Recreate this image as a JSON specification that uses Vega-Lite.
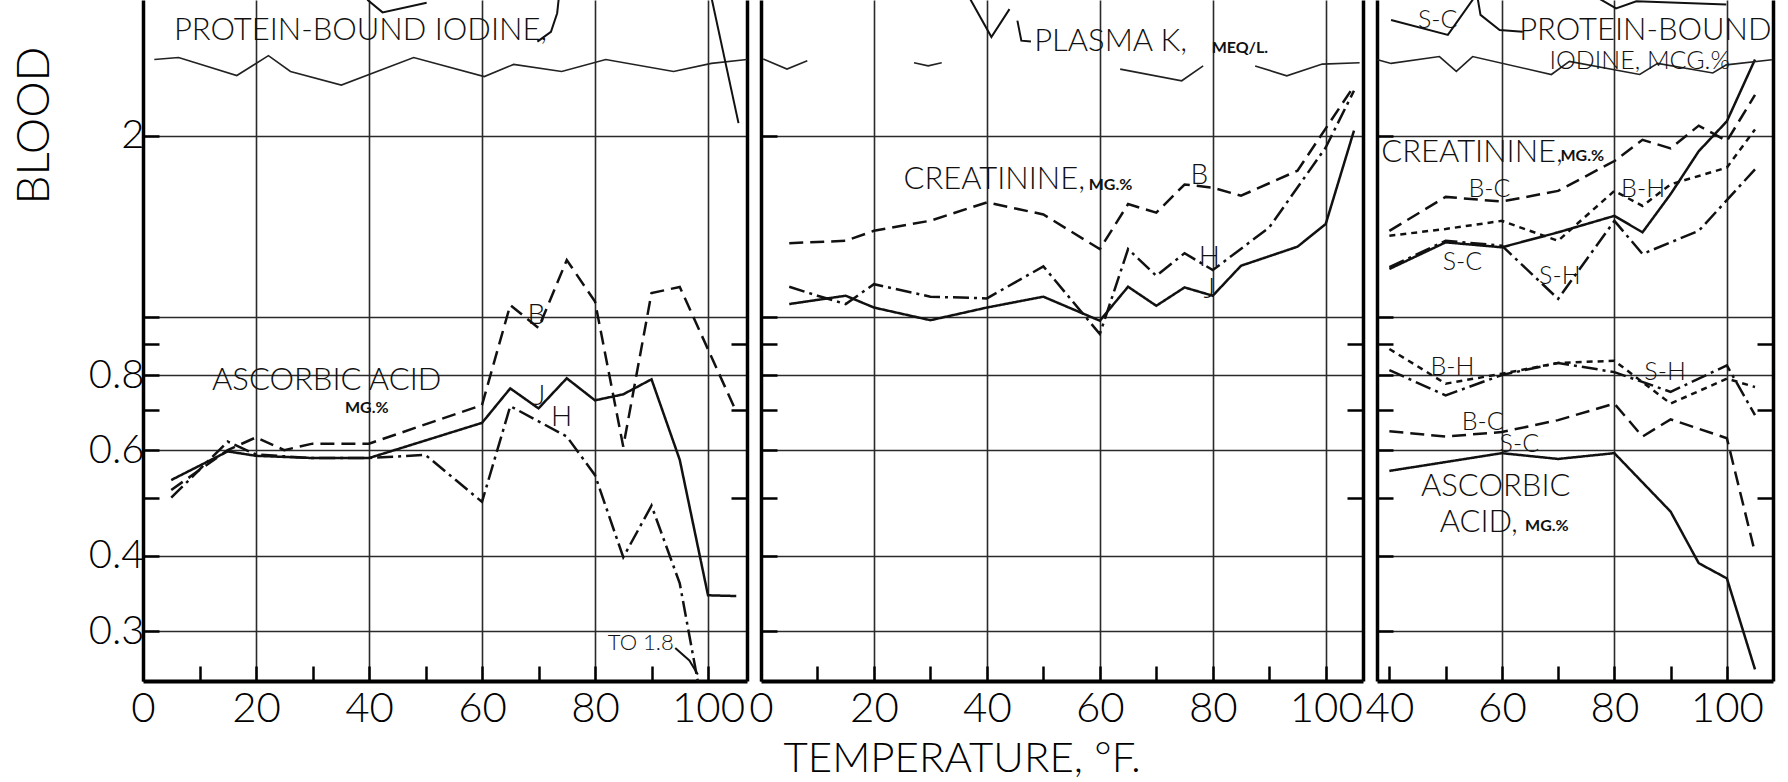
{
  "$schema": "https://vega.github.io/schema/vega-lite/v6.json",
  "background": "white",
  "padding": {"left": 11, "top": 0, "right": 10, "bottom": 5},
  "spacing": 14,
  "bounds": "flush",
  "config": {
    "font": "Lato",
    "view": {"stroke": null},
    "axis": {"gridColor": "#2a2a2a", "gridWidth": 1.6, "tickColor": "#000", "tickWidth": 2.5, "labelColor": "#000", "labelFont": "Lato", "labelFontWeight": 300, "titleFont": "Lato", "titleFontWeight": 300, "titleColor": "#000", "domainColor": "#000"},
    "text": {"font": "Lato", "color": "#111", "fontWeight": 300}
  },
  "datasets": {
    "lines": [
      {"p":1,"m":"asc","s":"J","x":5,"v":0.535},{"p":1,"m":"asc","s":"J","x":15,"v":0.597},{"p":1,"m":"asc","s":"J","x":20,"v":0.587},{"p":1,"m":"asc","s":"J","x":30,"v":0.582},{"p":1,"m":"asc","s":"J","x":40,"v":0.582},{"p":1,"m":"asc","s":"J","x":60,"v":0.666},{"p":1,"m":"asc","s":"J","x":65,"v":0.76},{"p":1,"m":"asc","s":"J","x":70,"v":0.704},{"p":1,"m":"asc","s":"J","x":75,"v":0.79},{"p":1,"m":"asc","s":"J","x":80,"v":0.726},{"p":1,"m":"asc","s":"J","x":85,"v":0.743},{"p":1,"m":"asc","s":"J","x":90,"v":0.787},{"p":1,"m":"asc","s":"J","x":95,"v":0.578},{"p":1,"m":"asc","s":"J","x":100,"v":0.344},{"p":1,"m":"asc","s":"J","x":105,"v":0.343},
      {"p":1,"m":"asc","s":"B","x":5,"v":0.515},{"p":1,"m":"asc","s":"B","x":15,"v":0.6},{"p":1,"m":"asc","s":"B","x":20,"v":0.63},{"p":1,"m":"asc","s":"B","x":25,"v":0.6},{"p":1,"m":"asc","s":"B","x":30,"v":0.615},{"p":1,"m":"asc","s":"B","x":40,"v":0.615},{"p":1,"m":"asc","s":"B","x":60,"v":0.713},{"p":1,"m":"asc","s":"B","x":65,"v":1.046},{"p":1,"m":"asc","s":"B","x":70,"v":0.958},{"p":1,"m":"asc","s":"B","x":75,"v":1.243},{"p":1,"m":"asc","s":"B","x":80,"v":1.06},{"p":1,"m":"asc","s":"B","x":85,"v":0.608},{"p":1,"m":"asc","s":"B","x":90,"v":1.095},{"p":1,"m":"asc","s":"B","x":95,"v":1.121},{"p":1,"m":"asc","s":"B","x":105,"v":0.695},
      {"p":1,"m":"asc","s":"H","x":5,"v":0.5},{"p":1,"m":"asc","s":"H","x":15,"v":0.62},{"p":1,"m":"asc","s":"H","x":20,"v":0.59},{"p":1,"m":"asc","s":"H","x":30,"v":0.582},{"p":1,"m":"asc","s":"H","x":40,"v":0.582},{"p":1,"m":"asc","s":"H","x":50,"v":0.589},{"p":1,"m":"asc","s":"H","x":60,"v":0.492},{"p":1,"m":"asc","s":"H","x":65,"v":0.71},{"p":1,"m":"asc","s":"H","x":70,"v":0.67},{"p":1,"m":"asc","s":"H","x":75,"v":0.632},{"p":1,"m":"asc","s":"H","x":80,"v":0.545},{"p":1,"m":"asc","s":"H","x":85,"v":0.398},{"p":1,"m":"asc","s":"H","x":90,"v":0.485},{"p":1,"m":"asc","s":"H","x":95,"v":0.36},{"p":1,"m":"asc","s":"H","x":100,"v":0.2},
      {"p":2,"m":"creat","s":"B","x":5,"v":1.326},{"p":2,"m":"creat","s":"B","x":15,"v":1.338},{"p":2,"m":"creat","s":"B","x":20,"v":1.39},{"p":2,"m":"creat","s":"B","x":30,"v":1.445},{"p":2,"m":"creat","s":"B","x":40,"v":1.55},{"p":2,"m":"creat","s":"B","x":50,"v":1.48},{"p":2,"m":"creat","s":"B","x":60,"v":1.296},{"p":2,"m":"creat","s":"B","x":65,"v":1.54},{"p":2,"m":"creat","s":"B","x":70,"v":1.49},{"p":2,"m":"creat","s":"B","x":75,"v":1.66},{"p":2,"m":"creat","s":"B","x":80,"v":1.64},{"p":2,"m":"creat","s":"B","x":85,"v":1.59},{"p":2,"m":"creat","s":"B","x":95,"v":1.75},{"p":2,"m":"creat","s":"B","x":105,"v":2.42},
      {"p":2,"m":"creat","s":"H","x":5,"v":1.122},{"p":2,"m":"creat","s":"H","x":10,"v":1.084},{"p":2,"m":"creat","s":"H","x":15,"v":1.05},{"p":2,"m":"creat","s":"H","x":20,"v":1.133},{"p":2,"m":"creat","s":"H","x":30,"v":1.08},{"p":2,"m":"creat","s":"H","x":40,"v":1.073},{"p":2,"m":"creat","s":"H","x":50,"v":1.213},{"p":2,"m":"creat","s":"H","x":60,"v":0.936},{"p":2,"m":"creat","s":"H","x":65,"v":1.296},{"p":2,"m":"creat","s":"H","x":70,"v":1.17},{"p":2,"m":"creat","s":"H","x":75,"v":1.276},{"p":2,"m":"creat","s":"H","x":80,"v":1.196},{"p":2,"m":"creat","s":"H","x":90,"v":1.408},{"p":2,"m":"creat","s":"H","x":100,"v":1.913},{"p":2,"m":"creat","s":"H","x":105,"v":2.377},
      {"p":2,"m":"creat","s":"J","x":5,"v":1.05},{"p":2,"m":"creat","s":"J","x":15,"v":1.084},{"p":2,"m":"creat","s":"J","x":20,"v":1.036},{"p":2,"m":"creat","s":"J","x":30,"v":0.987},{"p":2,"m":"creat","s":"J","x":40,"v":1.036},{"p":2,"m":"creat","s":"J","x":50,"v":1.08},{"p":2,"m":"creat","s":"J","x":60,"v":0.985},{"p":2,"m":"creat","s":"J","x":65,"v":1.122},{"p":2,"m":"creat","s":"J","x":70,"v":1.043},{"p":2,"m":"creat","s":"J","x":75,"v":1.119},{"p":2,"m":"creat","s":"J","x":80,"v":1.084},{"p":2,"m":"creat","s":"J","x":85,"v":1.216},{"p":2,"m":"creat","s":"J","x":95,"v":1.308},{"p":2,"m":"creat","s":"J","x":100,"v":1.427},{"p":2,"m":"creat","s":"J","x":105,"v":2.04},
      {"p":3,"m":"creat","s":"S-C","x":40,"v":1.201},{"p":3,"m":"creat","s":"S-C","x":50,"v":1.33},{"p":3,"m":"creat","s":"S-C","x":60,"v":1.305},{"p":3,"m":"creat","s":"S-C","x":70,"v":1.382},{"p":3,"m":"creat","s":"S-C","x":80,"v":1.472},{"p":3,"m":"creat","s":"S-C","x":85,"v":1.382},{"p":3,"m":"creat","s":"S-C","x":90,"v":1.6},{"p":3,"m":"creat","s":"S-C","x":95,"v":1.886},{"p":3,"m":"creat","s":"S-C","x":100,"v":2.115},{"p":3,"m":"creat","s":"S-C","x":105,"v":2.68},
      {"p":3,"m":"creat","s":"B-C","x":40,"v":1.39},{"p":3,"m":"creat","s":"B-C","x":50,"v":1.583},{"p":3,"m":"creat","s":"B-C","x":60,"v":1.555},{"p":3,"m":"creat","s":"B-C","x":70,"v":1.62},{"p":3,"m":"creat","s":"B-C","x":80,"v":1.816},{"p":3,"m":"creat","s":"B-C","x":85,"v":1.97},{"p":3,"m":"creat","s":"B-C","x":90,"v":1.906},{"p":3,"m":"creat","s":"B-C","x":95,"v":2.08},{"p":3,"m":"creat","s":"B-C","x":100,"v":1.96},{"p":3,"m":"creat","s":"B-C","x":105,"v":2.34},
      {"p":3,"m":"creat","s":"B-H","x":40,"v":1.364},{"p":3,"m":"creat","s":"B-H","x":50,"v":1.4},{"p":3,"m":"creat","s":"B-H","x":60,"v":1.444},{"p":3,"m":"creat","s":"B-H","x":70,"v":1.338},{"p":3,"m":"creat","s":"B-H","x":80,"v":1.62},{"p":3,"m":"creat","s":"B-H","x":85,"v":1.529},{"p":3,"m":"creat","s":"B-H","x":90,"v":1.661},{"p":3,"m":"creat","s":"B-H","x":100,"v":1.771},{"p":3,"m":"creat","s":"B-H","x":105,"v":2.05},
      {"p":3,"m":"creat","s":"S-H","x":40,"v":1.209},{"p":3,"m":"creat","s":"S-H","x":50,"v":1.338},{"p":3,"m":"creat","s":"S-H","x":60,"v":1.313},{"p":3,"m":"creat","s":"S-H","x":70,"v":1.071},{"p":3,"m":"creat","s":"S-H","x":80,"v":1.444},{"p":3,"m":"creat","s":"S-H","x":85,"v":1.272},{"p":3,"m":"creat","s":"S-H","x":90,"v":1.33},{"p":3,"m":"creat","s":"S-H","x":95,"v":1.39},{"p":3,"m":"creat","s":"S-H","x":105,"v":1.759},
      {"p":3,"m":"asc","s":"B-H","x":40,"v":0.884},{"p":3,"m":"asc","s":"B-H","x":50,"v":0.774},{"p":3,"m":"asc","s":"B-H","x":60,"v":0.804},{"p":3,"m":"asc","s":"B-H","x":70,"v":0.838},{"p":3,"m":"asc","s":"B-H","x":80,"v":0.845},{"p":3,"m":"asc","s":"B-H","x":90,"v":0.717},{"p":3,"m":"asc","s":"B-H","x":100,"v":0.789},{"p":3,"m":"asc","s":"B-H","x":105,"v":0.764},
      {"p":3,"m":"asc","s":"S-H","x":40,"v":0.815},{"p":3,"m":"asc","s":"S-H","x":50,"v":0.74},{"p":3,"m":"asc","s":"S-H","x":60,"v":0.8},{"p":3,"m":"asc","s":"S-H","x":70,"v":0.838},{"p":3,"m":"asc","s":"S-H","x":80,"v":0.809},{"p":3,"m":"asc","s":"S-H","x":90,"v":0.75},{"p":3,"m":"asc","s":"S-H","x":100,"v":0.83},{"p":3,"m":"asc","s":"S-H","x":105,"v":0.686},
      {"p":3,"m":"asc","s":"B-C","x":40,"v":0.645},{"p":3,"m":"asc","s":"B-C","x":50,"v":0.632},{"p":3,"m":"asc","s":"B-C","x":60,"v":0.643},{"p":3,"m":"asc","s":"B-C","x":70,"v":0.673},{"p":3,"m":"asc","s":"B-C","x":80,"v":0.717},{"p":3,"m":"asc","s":"B-C","x":85,"v":0.632},{"p":3,"m":"asc","s":"B-C","x":90,"v":0.675},{"p":3,"m":"asc","s":"B-C","x":100,"v":0.628},{"p":3,"m":"asc","s":"B-C","x":105,"v":0.405},
      {"p":3,"m":"asc","s":"S-C","x":40,"v":0.554},{"p":3,"m":"asc","s":"S-C","x":60,"v":0.593},{"p":3,"m":"asc","s":"S-C","x":70,"v":0.58},{"p":3,"m":"asc","s":"S-C","x":80,"v":0.593},{"p":3,"m":"asc","s":"S-C","x":90,"v":0.474},{"p":3,"m":"asc","s":"S-C","x":95,"v":0.389},{"p":3,"m":"asc","s":"S-C","x":100,"v":0.367},{"p":3,"m":"asc","s":"S-C","x":105,"v":0.259}
    ],
    "zig": [
      {"p":1,"seg":"a","x":2.0,"v":2.68},{"p":1,"seg":"a","x":6.3,"v":2.70},{"p":1,"seg":"a","x":16.6,"v":2.52},{"p":1,"seg":"a","x":22.2,"v":2.72},{"p":1,"seg":"a","x":26.1,"v":2.56},{"p":1,"seg":"a","x":35.1,"v":2.43},{"p":1,"seg":"a","x":47.9,"v":2.70},{"p":1,"seg":"a","x":60.4,"v":2.51},{"p":1,"seg":"a","x":65.6,"v":2.63},{"p":1,"seg":"a","x":74.1,"v":2.56},{"p":1,"seg":"a","x":81.9,"v":2.68},{"p":1,"seg":"a","x":93.9,"v":2.56},{"p":1,"seg":"a","x":100.6,"v":2.64},{"p":1,"seg":"a","x":107,"v":2.68},
      {"p":2,"seg":"a","x":0.4,"v":2.684},{"p":2,"seg":"a","x":4.6,"v":2.583},{"p":2,"seg":"a","x":8.2,"v":2.666},
      {"p":2,"seg":"b","x":27.1,"v":2.646},{"p":2,"seg":"b","x":29.6,"v":2.615},{"p":2,"seg":"b","x":32,"v":2.646},
      {"p":2,"seg":"d","x":63.6,"v":2.583},{"p":2,"seg":"d","x":74.5,"v":2.47},{"p":2,"seg":"d","x":78.3,"v":2.615},
      {"p":2,"seg":"e","x":87.5,"v":2.615},{"p":2,"seg":"e","x":93.1,"v":2.517},{"p":2,"seg":"e","x":99.4,"v":2.633},{"p":2,"seg":"e","x":106,"v":2.646},
      {"p":3,"seg":"a","x":37.9,"v":2.677},{"p":3,"seg":"a","x":40.3,"v":2.64},{"p":3,"seg":"a","x":48.9,"v":2.71},{"p":3,"seg":"a","x":51.9,"v":2.56},{"p":3,"seg":"a","x":54.8,"v":2.71},{"p":3,"seg":"a","x":68.8,"v":2.53},{"p":3,"seg":"a","x":72,"v":2.66},{"p":3,"seg":"a","x":84.5,"v":2.53},{"p":3,"seg":"a","x":87.7,"v":2.64},{"p":3,"seg":"a","x":97.5,"v":2.545},{"p":3,"seg":"a","x":99.9,"v":2.625},{"p":3,"seg":"a","x":108,"v":2.677}
    ],
    "upper": [
      {"p":1,"seg":"pbi","x":100.6,"v":3.4},{"p":1,"seg":"pbi","x":105.4,"v":2.1},
      {"p":1,"seg":"v","x":39.7,"v":3.37},{"p":1,"seg":"v","x":42.4,"v":3.21},{"p":1,"seg":"v","x":50.2,"v":3.33},
      {"p":1,"seg":"lead","x":69.8,"v":2.87},{"p":1,"seg":"lead","x":72.2,"v":2.98},{"p":1,"seg":"lead","x":73.3,"v":3.2},{"p":1,"seg":"lead","x":73.6,"v":3.4},
      {"p":1,"seg":"arrow","x":94.2,"v":0.281},{"p":1,"seg":"arrow","x":96.7,"v":0.268},{"p":1,"seg":"arrow","x":98.2,"v":0.254},
      {"p":2,"seg":"k","x":36.5,"v":3.45},{"p":2,"seg":"k","x":40.8,"v":2.92},{"p":2,"seg":"k","x":44,"v":3.25},
      {"p":2,"seg":"lead","x":45.4,"v":3.11},{"p":2,"seg":"lead","x":46.1,"v":2.88},{"p":2,"seg":"lead","x":47.8,"v":2.87},
      {"p":3,"seg":"sc","x":40.3,"v":3.118},{"p":3,"seg":"sc","x":50.4,"v":2.945},{"p":3,"seg":"sc","x":55.4,"v":3.43},
      {"p":3,"seg":"lead","x":55.6,"v":3.43},{"p":3,"seg":"lead","x":56.2,"v":3.18},{"p":3,"seg":"lead","x":59.6,"v":3.0},{"p":3,"seg":"lead","x":63.7,"v":2.98},
      {"p":3,"seg":"pbi","x":76.2,"v":3.43},{"p":3,"seg":"pbi","x":80.3,"v":3.26},{"p":3,"seg":"pbi","x":83.9,"v":3.35},{"p":3,"seg":"pbi","x":99.9,"v":3.31}
    ],
    "labels": [
      {"p":1,"kind":"name","text":"ASCORBIC ACID","x":32.5,"v":0.783},
      {"p":1,"kind":"unit","text":"MG.%","x":39.6,"v":0.704},
      {"p":1,"kind":"name","text":"PROTEIN-BOUND IODINE,","x":38.5,"v":2.99},
      {"p":1,"kind":"series","text":"B","x":69.6,"v":1.003},
      {"p":1,"kind":"series","text":"J","x":70.2,"v":0.736},
      {"p":1,"kind":"series","text":"H","x":74.1,"v":0.678},
      {"p":1,"kind":"note","text":"TO 1.8","x":88.1,"v":0.286},
      {"p":2,"kind":"name","text":"CREATININE,","x":41.3,"v":1.688},
      {"p":2,"kind":"unit","text":"MG.%","x":61.9,"v":1.658},
      {"p":2,"kind":"name","text":"PLASMA K,","x":61.9,"v":2.868},
      {"p":2,"kind":"unit","text":"MEQ/L.","x":84.8,"v":2.8},
      {"p":2,"kind":"series","text":"B","x":77.6,"v":1.716},
      {"p":2,"kind":"series","text":"H","x":79.4,"v":1.254},
      {"p":2,"kind":"series","text":"J","x":79.4,"v":1.108},
      {"p":3,"kind":"name","text":"CREATININE,","x":54.7,"v":1.876},
      {"p":3,"kind":"unit","text":"MG.%","x":74.3,"v":1.85},
      {"p":3,"kind":"code","text":"B-C","x":57.8,"v":1.63},
      {"p":3,"kind":"code","text":"S-C","x":53.0,"v":1.234},
      {"p":3,"kind":"code","text":"S-H","x":70.3,"v":1.169},
      {"p":3,"kind":"code","text":"B-H","x":85.1,"v":1.63},
      {"p":3,"kind":"code","text":"S-C","x":48.6,"v":3.118},
      {"p":3,"kind":"name","text":"PROTEIN-BOUND","x":85.5,"v":2.985},
      {"p":3,"kind":"code","text":"IODINE, MCG.%","x":84.5,"v":2.66},
      {"p":3,"kind":"name","text":"ASCORBIC","x":58.9,"v":0.52},
      {"p":3,"kind":"name","text":"ACID,","x":55.9,"v":0.454},
      {"p":3,"kind":"unit","text":"MG.%","x":68,"v":0.448},
      {"p":3,"kind":"code","text":"B-H","x":51.2,"v":0.825},
      {"p":3,"kind":"code","text":"S-H","x":89.0,"v":0.809},
      {"p":3,"kind":"code","text":"B-C","x":56.6,"v":0.668},
      {"p":3,"kind":"code","text":"S-C","x":63.1,"v":0.615}
    ]
  },
  "hconcat": [
    {
      "width": 604, "height": 681,
      "layer": [
        {
          "data": {"name": "lines"}, "transform": [{"filter": "datum.p == 1"}],
          "mark": {"type": "line", "clip": true, "color": "#111", "strokeWidth": 2.5},
          "encoding": {
            "x": {"field": "x", "type": "quantitative", "scale": {"domain": [0, 106.9], "nice": false, "zero": false},
              "axis": {"orient": "bottom", "values": [0,10,20,30,40,50,60,70,80,90,100], "title": null, "grid": false, "tickSize": -15, "labelPadding": 22, "labelFontSize": 42, "labelExpr": "datum.value % 20 == 0 ? '' + datum.value : ''", "domain": true, "domainWidth": 4, "labelFlush": false, "labelOverlap": false}},
            "y": {"field": "v", "type": "quantitative", "scale": {"type": "log", "domain": [0.2477, 3.366], "nice": false},
              "axis": {"orient": "left", "values": [0.3,0.4,0.5,0.6,0.7,0.8,0.9,1,2], "title": "BLOOD", "titleFontSize": 46, "titleX": -109, "titleY": 125, "titleAngle": 270, "titleAlign": "center", "titleBaseline": "middle", "tickSize": -16, "labelPadding": 15, "labelFontSize": 40, "labelExpr": "(datum.value == 0.5 || datum.value == 0.7 || datum.value == 0.9 || datum.value == 1) ? '' : '' + datum.value", "grid": true, "gridOpacity": {"condition": {"test": "datum.value == 0.5 || datum.value == 0.7 || datum.value == 0.9", "value": 0}, "value": 1}, "domain": true, "domainWidth": 3.5, "labelFlush": false, "labelOverlap": false}},
            "strokeDash": {"field": "s", "type": "nominal", "scale": {"domain": ["J","B","H","S-C","B-C","B-H","S-H"], "range": [[1,0],[14,7],[16,5,3,5],[1,0],[14,7],[6,5],[16,5,3,5]]}, "legend": null},
            "detail": {"field": "m"}
          }
        },
        {
          "data": {"name": "zig"}, "transform": [{"filter": "datum.p == 1"}],
          "mark": {"type": "line", "clip": true, "color": "#222", "strokeWidth": 1.6},
          "encoding": {
            "x": {"field": "x", "type": "quantitative", "scale": {"domain": [0, 106.9], "nice": false, "zero": false},
              "axis": {"orient": "bottom", "values": [20,40,60,80,100], "grid": true, "ticks": false, "labels": false, "domain": false, "title": null}},
            "y": {"field": "v", "type": "quantitative", "scale": {"type": "log", "domain": [0.2477, 3.366], "nice": false},
              "axis": {"orient": "right", "values": [0.5,0.7,0.9], "tickSize": -16, "labels": false, "grid": false, "domain": true, "domainWidth": 3.5, "title": null}},
            "detail": {"field": "seg"}
          }
        },
        {
          "data": {"name": "upper"}, "transform": [{"filter": "datum.p == 1"}],
          "mark": {"type": "line", "clip": true, "color": "#111", "strokeWidth": 2},
          "encoding": {
            "x": {"field": "x", "type": "quantitative", "axis": null},
            "y": {"field": "v", "type": "quantitative", "scale": {"type": "log", "domain": [0.2477, 3.366], "nice": false}, "axis": null},
            "detail": {"field": "seg"}
          }
        },
        {
          "mark": {"type": "rule", "color": "#777", "strokeWidth": 1.5, "strokeDash": [3, 3]},
          "encoding": {"y": {"datum": 2.76, "type": "quantitative", "scale": {"type": "log", "domain": [0.2477, 3.366], "nice": false}, "axis": null}}
        },
        {
          "data": {"name": "labels"}, "transform": [{"filter": "datum.p == 1 && datum.kind != 'unit'"}],
          "mark": {"type": "text", "align": "center", "baseline": "middle"},
          "encoding": {
            "x": {"field": "x", "type": "quantitative", "axis": null},
            "y": {"field": "v", "type": "quantitative", "scale": {"type": "log", "domain": [0.2477, 3.366], "nice": false}, "axis": null},
            "text": {"field": "text"},
            "size": {"field": "kind", "type": "nominal", "scale": {"domain": ["name","series","code","note"], "range": [31,22,20,18]}, "legend": null}
          }
        },
        {
          "data": {"name": "labels"}, "transform": [{"filter": "datum.p == 1 && datum.kind == 'unit'"}],
          "mark": {"type": "text", "align": "center", "baseline": "middle", "fontSize": 16, "fontWeight": "bold"},
          "encoding": {
            "x": {"field": "x", "type": "quantitative", "axis": null},
            "y": {"field": "v", "type": "quantitative", "scale": {"type": "log", "domain": [0.2477, 3.366], "nice": false}, "axis": null},
            "text": {"field": "text"}
          }
        }
      ],
      "resolve": {"axis": {"x": "independent", "y": "independent"}}
    },
    {
      "width": 602, "height": 681,
      "layer": [
        {
          "data": {"name": "lines"}, "transform": [{"filter": "datum.p == 2"}],
          "mark": {"type": "line", "clip": true, "color": "#111", "strokeWidth": 2.5},
          "encoding": {
            "x": {"field": "x", "type": "quantitative", "scale": {"domain": [0, 106.6], "nice": false, "zero": false},
              "axis": {"orient": "bottom", "values": [0,10,20,30,40,50,60,70,80,90,100], "title": "TEMPERATURE, °F.", "titleFontSize": 42, "titleX": 22, "titleY": 77, "titleAlign": "left", "titleBaseline": "middle", "grid": false, "tickSize": -15, "labelPadding": 22, "labelFontSize": 42, "labelExpr": "datum.value % 20 == 0 ? '' + datum.value : ''", "domain": true, "domainWidth": 4, "labelFlush": false, "labelOverlap": false}},
            "y": {"field": "v", "type": "quantitative", "scale": {"type": "log", "domain": [0.2477, 3.366], "nice": false},
              "axis": {"orient": "left", "values": [0.3,0.4,0.5,0.6,0.7,0.8,0.9,1,2], "title": null, "labels": false, "tickSize": -16, "grid": true, "gridOpacity": {"condition": {"test": "datum.value == 0.5 || datum.value == 0.7 || datum.value == 0.9", "value": 0}, "value": 1}, "domain": true, "domainWidth": 3.5}},
            "strokeDash": {"field": "s", "type": "nominal", "scale": {"domain": ["J","B","H","S-C","B-C","B-H","S-H"], "range": [[1,0],[14,7],[16,5,3,5],[1,0],[14,7],[6,5],[16,5,3,5]]}, "legend": null},
            "detail": {"field": "m"}
          }
        },
        {
          "data": {"name": "zig"}, "transform": [{"filter": "datum.p == 2"}],
          "mark": {"type": "line", "clip": true, "color": "#222", "strokeWidth": 1.6},
          "encoding": {
            "x": {"field": "x", "type": "quantitative", "scale": {"domain": [0, 106.6], "nice": false, "zero": false},
              "axis": {"orient": "bottom", "values": [20,40,60,80,100], "grid": true, "ticks": false, "labels": false, "domain": false, "title": null}},
            "y": {"field": "v", "type": "quantitative", "scale": {"type": "log", "domain": [0.2477, 3.366], "nice": false},
              "axis": {"orient": "right", "values": [0.5,0.7,0.9], "tickSize": -16, "labels": false, "grid": false, "domain": true, "domainWidth": 3.5, "title": null}},
            "detail": {"field": "seg"}
          }
        },
        {
          "data": {"name": "upper"}, "transform": [{"filter": "datum.p == 2"}],
          "mark": {"type": "line", "clip": true, "color": "#111", "strokeWidth": 2},
          "encoding": {
            "x": {"field": "x", "type": "quantitative", "axis": null},
            "y": {"field": "v", "type": "quantitative", "scale": {"type": "log", "domain": [0.2477, 3.366], "nice": false}, "axis": null},
            "detail": {"field": "seg"}
          }
        },
        {
          "data": {"name": "labels"}, "transform": [{"filter": "datum.p == 2 && datum.kind != 'unit'"}],
          "mark": {"type": "text", "align": "center", "baseline": "middle"},
          "encoding": {
            "x": {"field": "x", "type": "quantitative", "axis": null},
            "y": {"field": "v", "type": "quantitative", "scale": {"type": "log", "domain": [0.2477, 3.366], "nice": false}, "axis": null},
            "text": {"field": "text"},
            "size": {"field": "kind", "type": "nominal", "scale": {"domain": ["name","series","code","note"], "range": [31,22,20,18]}, "legend": null}
          }
        },
        {
          "data": {"name": "labels"}, "transform": [{"filter": "datum.p == 2 && datum.kind == 'unit'"}],
          "mark": {"type": "text", "align": "center", "baseline": "middle", "fontSize": 16, "fontWeight": "bold"},
          "encoding": {
            "x": {"field": "x", "type": "quantitative", "axis": null},
            "y": {"field": "v", "type": "quantitative", "scale": {"type": "log", "domain": [0.2477, 3.366], "nice": false}, "axis": null},
            "text": {"field": "text"}
          }
        }
      ],
      "resolve": {"axis": {"x": "independent", "y": "independent"}}
    },
    {
      "width": 396, "height": 681,
      "layer": [
        {
          "data": {"name": "lines"}, "transform": [{"filter": "datum.p == 3"}],
          "mark": {"type": "line", "clip": true, "color": "#111", "strokeWidth": 2.5},
          "encoding": {
            "x": {"field": "x", "type": "quantitative", "scale": {"domain": [37.8, 108.2], "nice": false, "zero": false},
              "axis": {"orient": "bottom", "values": [40,50,60,70,80,90,100], "title": null, "grid": false, "tickSize": -15, "labelPadding": 22, "labelFontSize": 42, "labelExpr": "datum.value % 20 == 0 ? '' + datum.value : ''", "domain": true, "domainWidth": 4, "labelFlush": false, "labelOverlap": false}},
            "y": {"field": "v", "type": "quantitative", "scale": {"type": "log", "domain": [0.2477, 3.366], "nice": false},
              "axis": {"orient": "left", "values": [0.3,0.4,0.5,0.6,0.7,0.8,0.9,1,2], "title": null, "labels": false, "tickSize": -16, "grid": true, "gridOpacity": {"condition": {"test": "datum.value == 0.5 || datum.value == 0.7 || datum.value == 0.9", "value": 0}, "value": 1}, "domain": true, "domainWidth": 3.5}},
            "strokeDash": {"field": "s", "type": "nominal", "scale": {"domain": ["J","B","H","S-C","B-C","B-H","S-H"], "range": [[1,0],[14,7],[16,5,3,5],[1,0],[14,7],[6,5],[16,5,3,5]]}, "legend": null},
            "detail": {"field": "m"}
          }
        },
        {
          "data": {"name": "zig"}, "transform": [{"filter": "datum.p == 3"}],
          "mark": {"type": "line", "clip": true, "color": "#222", "strokeWidth": 1.6},
          "encoding": {
            "x": {"field": "x", "type": "quantitative", "scale": {"domain": [37.8, 108.2], "nice": false, "zero": false},
              "axis": {"orient": "bottom", "values": [60,80,100], "grid": true, "ticks": false, "labels": false, "domain": false, "title": null}},
            "y": {"field": "v", "type": "quantitative", "scale": {"type": "log", "domain": [0.2477, 3.366], "nice": false},
              "axis": {"orient": "right", "values": [0.5,0.7,0.9], "tickSize": -16, "labels": false, "grid": false, "domain": true, "domainWidth": 3.5, "title": null}},
            "detail": {"field": "seg"}
          }
        },
        {
          "data": {"name": "upper"}, "transform": [{"filter": "datum.p == 3"}],
          "mark": {"type": "line", "clip": true, "color": "#111", "strokeWidth": 2},
          "encoding": {
            "x": {"field": "x", "type": "quantitative", "axis": null},
            "y": {"field": "v", "type": "quantitative", "scale": {"type": "log", "domain": [0.2477, 3.366], "nice": false}, "axis": null},
            "detail": {"field": "seg"}
          }
        },
        {
          "data": {"name": "labels"}, "transform": [{"filter": "datum.p == 3 && datum.kind != 'unit'"}],
          "mark": {"type": "text", "align": "center", "baseline": "middle"},
          "encoding": {
            "x": {"field": "x", "type": "quantitative", "axis": null},
            "y": {"field": "v", "type": "quantitative", "scale": {"type": "log", "domain": [0.2477, 3.366], "nice": false}, "axis": null},
            "text": {"field": "text"},
            "size": {"field": "kind", "type": "nominal", "scale": {"domain": ["name","series","code","note"], "range": [31,22,20,18]}, "legend": null}
          }
        },
        {
          "data": {"name": "labels"}, "transform": [{"filter": "datum.p == 3 && datum.kind == 'unit'"}],
          "mark": {"type": "text", "align": "center", "baseline": "middle", "fontSize": 16, "fontWeight": "bold"},
          "encoding": {
            "x": {"field": "x", "type": "quantitative", "axis": null},
            "y": {"field": "v", "type": "quantitative", "scale": {"type": "log", "domain": [0.2477, 3.366], "nice": false}, "axis": null},
            "text": {"field": "text"}
          }
        }
      ],
      "resolve": {"axis": {"x": "independent", "y": "independent"}}
    }
  ]
}
